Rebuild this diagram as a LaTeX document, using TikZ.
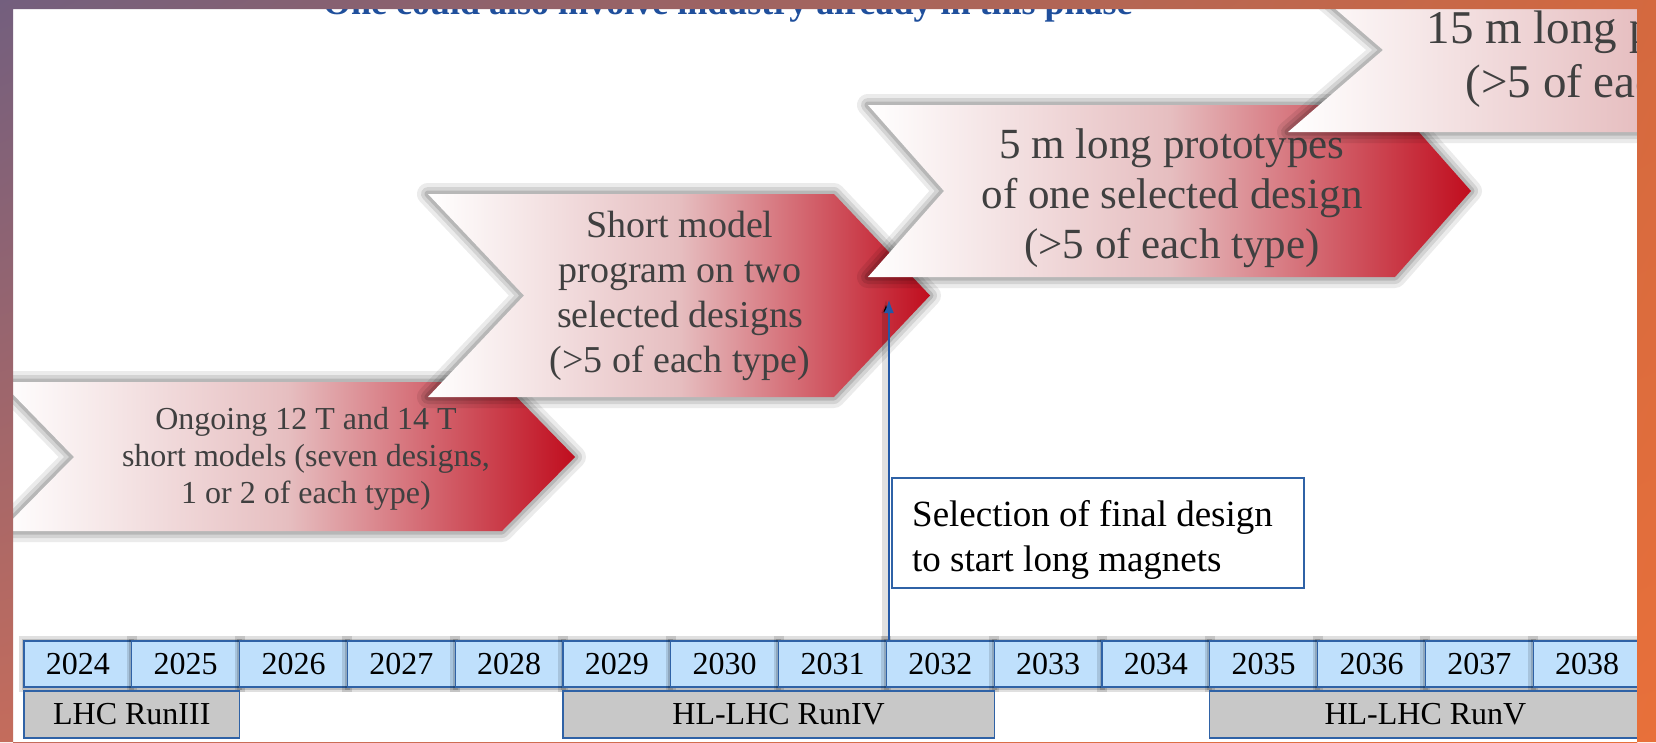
\documentclass[tikz,border=0pt]{standalone}
\usepackage{fontspec}
\setmainfont{Liberation Serif}
\usepackage{tikz}
\usetikzlibrary{arrows.meta}
\usetikzlibrary{positioning}
\usetikzlibrary{shadings}

\definecolor{chevred}{HTML}{C00D1E}
\definecolor{chevmid}{HTML}{E6BEC0}
\definecolor{chevgray}{HTML}{404040}
\definecolor{boxblue}{HTML}{2F62A6}
\definecolor{arrowblue}{HTML}{2358A6}
\definecolor{yearblue}{HTML}{BFE0FC}
\definecolor{rungray}{HTML}{C8C8C8}
\definecolor{topblue}{HTML}{1F4F9C}
\definecolor{frameul}{HTML}{735F7E}
\definecolor{frameur}{HTML}{D4693F}
\definecolor{framell}{HTML}{C46C5C}
\definecolor{framelr}{HTML}{E8703A}

\begin{document}
\begin{tikzpicture}[x=1pt,y=1pt,yscale=-1,xscale=1,
  chev/.style={left color=white, right color=chevred, middle color=chevmid,
    preaction={draw=black, draw opacity=0.08, line width=22pt, line join=round},
    preaction={draw=black, draw opacity=0.10, line width=14pt, line join=round},
    preaction={draw=black, draw opacity=0.13, line width=7pt, line join=round}},
  chevtext/.style={text=chevgray, align=center, inner sep=0.75pt},
  yearbox/.style={draw=boxblue, line width=1.2pt, fill=yearblue, minimum width=107.8pt,
    minimum height=46pt, inner sep=0pt, font=\fontsize{32}{38}\selectfont,
    preaction={draw=black, draw opacity=0.12, line width=10pt},
    preaction={draw=black, draw opacity=0.15, line width=5pt}},
  runbox/.style={draw=boxblue, line width=1.2pt, fill=rungray, minimum width=431.2pt,
    minimum height=47pt, inner sep=0pt, font=\fontsize{32}{38}\selectfont},
  selbox/.style={draw=boxblue, line width=1.5pt, fill=white, minimum width=412pt, minimum height=110pt},
  selarrow/.style={draw=arrowblue, line width=2.8pt, -{Latex[length=14pt,width=10pt]},
    preaction={draw=black, draw opacity=0.12, line width=8pt, transform canvas={xshift=-3pt}}}
]
\useasboundingbox (0,0) rectangle (1656,742);
\fill[white] (0,0) rectangle (1656,742);

%Shape: Chevron [ongoing models]
\path[chev] (1,382) -- (502,382) -- (575,457) -- (502,531) -- (1,531) -- (74,457) -- cycle;
% Text Node
\node[chevtext, font=\fontsize{32}{37}\selectfont] (ongoing) at (306,459) {Ongoing 12 T and 14 T\\short models (seven designs,\\1 or 2 of each type)};

%Shape: Chevron [short model program]
\path[chev] (428,194) -- (834,194) -- (930,295.5) -- (834,397) -- (428,397) -- (524,295.5) -- cycle;
% Text Node
\node[chevtext, font=\fontsize{38}{45}\selectfont] (shortmodel) at (680,296) {Short model\\program on two\\selected designs\\(>5 of each type)};

%Shape: Chevron [5 m prototypes]
\path[chev] (868,105) -- (1395,105) -- (1471,191) -- (1395,277) -- (868,277) -- (944,191) -- cycle;
% Text Node
\node[chevtext, font=\fontsize{43}{50}\selectfont] (fivem) at (1172,198) {5 m long prototypes\\of one selected design\\(>5 of each type)};

%Shape: Chevron [15 m prototypes]
\path[chev] (1288,-32) -- (1900,-32) -- (1995,50) -- (1900,132) -- (1288,132) -- (1383,50) -- cycle;
% Text Node
\node[chevtext, font=\fontsize{47}{54}\selectfont] (fifteenm) at (1627,59) {15 m long prototypes\\(>5 of each type)};

% Years
\node[yearbox] (y2024) at (77.9,664) {2024};
\node[yearbox] (y2025) at (185.7,664) {2025};
\node[yearbox] (y2026) at (293.5,664) {2026};
\node[yearbox] (y2027) at (401.3,664) {2027};
\node[yearbox] (y2028) at (509.1,664) {2028};
\node[yearbox] (y2029) at (616.9,664) {2029};
\node[yearbox] (y2030) at (724.7,664) {2030};
\node[yearbox] (y2031) at (832.5,664) {2031};
\node[yearbox] (y2032) at (940.3,664) {2032};
\node[yearbox] (y2033) at (1048.1,664) {2033};
\node[yearbox] (y2034) at (1155.9,664) {2034};
\node[yearbox] (y2035) at (1263.7,664) {2035};
\node[yearbox] (y2036) at (1371.5,664) {2036};
\node[yearbox] (y2037) at (1479.3,664) {2037};
\node[yearbox] (y2038) at (1587.1,664) {2038};

% Runs
\node[runbox, minimum width=215.6pt] (run3) at (131.8,714.5) {LHC RunIII};
\node[runbox] (run4) at (778.6,714.5) {HL-LHC RunIV};
\node[runbox] (run5) at (1425.4,714.5) {HL-LHC RunV};

% Decision
\coordinate (decision) at (889,299);
\draw[selarrow] (decision |- y2031.north) -- (decision);
\node[selbox] (selection) at (1098,533) {};
\node[anchor=north west, align=left, inner sep=0pt, font=\fontsize{37}{45}\selectfont] (selectiontext) at (912,500) {Selection of final design\\to start long magnets};

% Text Node
\node[anchor=base west, inner sep=0pt, text=topblue, font=\bfseries\fontsize{36}{40}\selectfont] (topnote) at (323,14) {One could also involve industry already in this phase};

%Shape: Frame
\shade[even odd rule, upper left=frameul, upper right=frameur, lower left=framell, lower right=framelr]
  (0,0) rectangle (1656,742) (13,9) rectangle (1637,743);
\end{tikzpicture}
\end{document}
